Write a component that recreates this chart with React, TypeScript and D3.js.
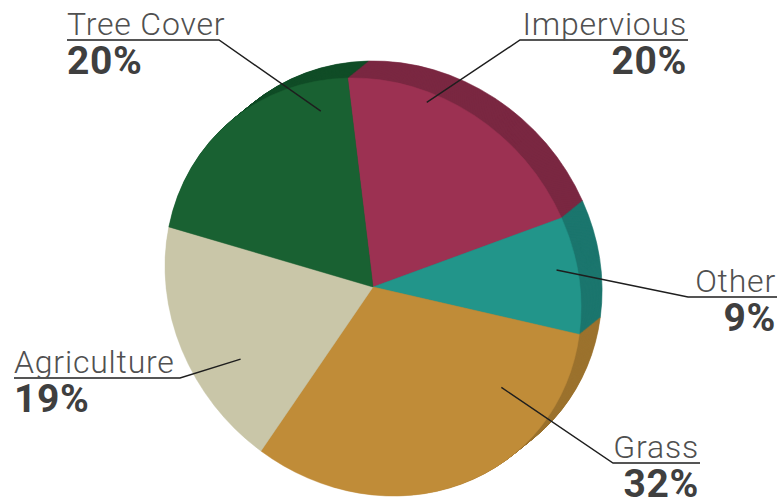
import React from "react";
import * as d3 from "d3";

const categories = ["Impervious", "Other", "Grass", "Agriculture", "Tree Cover"];
const values = [20, 9, 32, 19, 20];
const percentLabels = ["20%", "9%", "32%", "19%", "20%"];

const faceColors = ["#9c3152", "#22958a", "#c08c38", "#c9c6a8", "#196132"];
const sideColors = ["#7a2842", "#1b766e", "#9c722e", "#a8a58a", "#114d27"];

// label layout (annotation positions)
const labelLayout: Record<string, any> = {
  "Tree Cover": { x0: 67, x1: 219, y: 40, align: "start", anchorAngle: 343, anchorR: 0.85 },
  Impervious: { x0: 520, x1: 688, y: 40, align: "end", anchorAngle: 15.8, anchorR: 0.94 },
  Other: { x0: 688, x1: 777, y: 297, align: "end", anchorAngle: 79.1, anchorR: 0.89 },
  Agriculture: { x0: 14, x1: 180, y: 378, align: "start", anchorAngle: 237.2, anchorR: 0.75 },
  Grass: { x0: 613, x1: 700, y: 463, align: "end", anchorAngle: 124.3, anchorR: 0.74 },
};

const W = 777;
const H = 499;
const cx = 373;
const cy = 287;
const R = 208;
const shear = 0.1;
const depth = { dx: 21, dy: -17 };
const layers = 28;

export default function App() {
  const pie = d3
    .pie<number>()
    .sort(null)
    .value((d) => d)
    .startAngle((-7 * Math.PI) / 180)
    .endAngle(((360 - 7) * Math.PI) / 180);
  const arcs = pie(values);
  const arcGen = d3.arc<d3.PieArcDatum<number>>().innerRadius(0).outerRadius(R);

  const project = (angleDeg: number, rf: number) => {
    const a = (angleDeg * Math.PI) / 180;
    const x = Math.sin(a) * 210 * rf;
    const y = -Math.cos(a) * 210 * rf;
    return [cx + x, cy + y + shear * x];
  };

  const layerIdx = d3.range(layers, 0, -1);

  return (
    <svg
      width={W}
      height={H}
      style={{ position: "absolute", left: 0, top: 0, background: "#fff" }}
    >
      {layerIdx.map((i) => (
        <g
          key={"l" + i}
          transform={`translate(${cx + (depth.dx * i) / layers},${cy + (depth.dy * i) / layers}) matrix(1,${shear},0,1,0,0)`}
        >
          {arcs.map((a, j) => (
            <path key={j} d={arcGen(a) || ""} fill={sideColors[j]} stroke={sideColors[j]} strokeWidth={0.6} />
          ))}
        </g>
      ))}
      <g transform={`translate(${cx},${cy}) matrix(1,${shear},0,1,0,0)`}>
        {arcs.map((a, j) => (
          <path key={j} d={arcGen(a) || ""} fill={faceColors[j]} stroke={faceColors[j]} strokeWidth={0.5} />
        ))}
      </g>
      {categories.map((c, j) => {
        const L = labelLayout[c];
        const [ax, ay] = project(L.anchorAngle, L.anchorR);
        const elbowX = L.align === "start" ? L.x1 : L.x0;
        const tx = L.align === "start" ? L.x0 : L.x1 - 1;
        return (
          <g key={c}>
            <polyline
              points={`${L.align === "start" ? L.x0 : L.x1},${L.y} ${elbowX},${L.y} ${ax},${ay}`}
              fill="none"
              stroke="#1e1e1e"
              strokeWidth={1.4}
            />
            <text
              x={tx}
              y={L.y - 5}
              textAnchor={L.align}
              fontFamily="Roboto, 'Open Sans', sans-serif"
              fontWeight={300}
              fontSize={32}
              letterSpacing={0.8}
              fill="#505050"
            >
              {c}
            </text>
            <text
              x={tx}
              y={L.y + 34}
              textAnchor={L.align}
              fontFamily="Roboto, 'Open Sans', sans-serif"
              fontWeight={700}
              fontSize={39}
              letterSpacing={0.6}
              fill="#3f3f3f"
            >
              {percentLabels[j]}
            </text>
          </g>
        );
      })}
    </svg>
  );
}
